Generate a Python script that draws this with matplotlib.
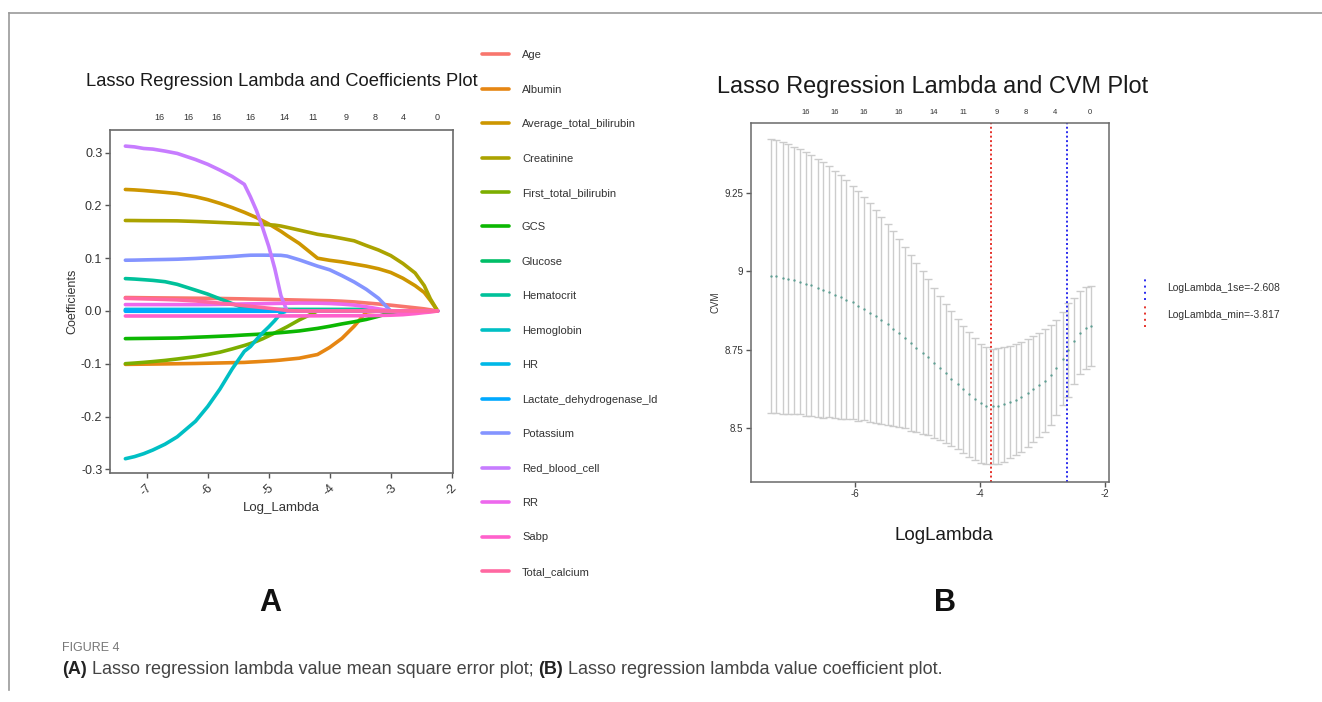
import matplotlib
matplotlib.use("Agg")
import matplotlib.pyplot as plt
from matplotlib.lines import Line2D
from matplotlib.legend_handler import HandlerBase
from matplotlib.ticker import FormatStrFormatter
import matplotlib.transforms as mtransforms

plt.rcParams['font.family'] = ['Liberation Sans', 'DejaVu Sans']
plt.rcParams['axes.unicode_minus'] = False

# ---------------- data: coefficient paths (panel A) ----------------
var_names = ["Age", "Albumin", "Average_total_bilirubin", "Creatinine",
             "First_total_bilirubin", "GCS", "Glucose", "Hematocrit",
             "Hemoglobin", "HR", "Lactate_dehydrogenase_ld", "Potassium",
             "Red_blood_cell", "RR", "Sabp", "Total_calcium"]
var_colors = ["#F8766D", "#E68613", "#CD9600", "#ABA300", "#7CAE00", "#0CB702",
              "#00BE67", "#00C19A", "#00BFC4", "#00B8E7", "#00A9FF", "#8494FF",
              "#C77CFF", "#ED68ED", "#FF61CC", "#FF68A1"]

coef_loglambda = [-7.35, -7.2, -7.05, -6.9, -6.7, -6.5, -6.2, -6.0, -5.8, -5.6,
                  -5.4, -5.3, -5.2, -5.1, -5.0, -4.9, -4.8, -4.7, -4.5, -4.2,
                  -4.0, -3.8, -3.6, -3.4, -3.2, -3.0, -2.8, -2.6, -2.45, -2.35, -2.23]

coef_age = [0.0255, 0.0253, 0.0251, 0.0249, 0.0247, 0.0245, 0.0242, 0.0240, 0.0237, 0.0233,
            0.0229, 0.0226, 0.0224, 0.0222, 0.0220, 0.0217, 0.0215, 0.0212, 0.0207, 0.0199,
            0.0195, 0.0185, 0.0172, 0.0152, 0.0132, 0.0110, 0.0085, 0.0060, 0.0040, 0.0022, 0.0]
coef_albumin = [-0.1012, -0.1010, -0.1008, -0.1006, -0.1003, -0.1000, -0.0995, -0.0990, -0.0985, -0.0980,
                -0.0975, -0.0968, -0.0962, -0.0955, -0.0948, -0.0940, -0.0930, -0.0918, -0.0895, -0.0825,
                -0.0690, -0.0520, -0.0290, -0.0020, 0.0, 0.0, 0.0, 0.0, 0.0, 0.0, 0.0]
coef_avg_bili = [0.2303, 0.2295, 0.2283, 0.2268, 0.2248, 0.2226, 0.2165, 0.2110, 0.2040, 0.1960,
                 0.1870, 0.1820, 0.1770, 0.1710, 0.1650, 0.1580, 0.1510, 0.1430, 0.1280, 0.1000,
                 0.0960, 0.0930, 0.0890, 0.0850, 0.0800, 0.0730, 0.0620, 0.0480, 0.0350, 0.0200, 0.0]
coef_creatinine = [0.1715, 0.1714, 0.1712, 0.1711, 0.1710, 0.1708, 0.1697, 0.1688, 0.1678, 0.1668,
                   0.1657, 0.1651, 0.1645, 0.1640, 0.1634, 0.1627, 0.1610, 0.1585, 0.1533, 0.1453,
                   0.1418, 0.1375, 0.1330, 0.1240, 0.1155, 0.1050, 0.0900, 0.0720, 0.0480, 0.0230, 0.0]
coef_first_bili = [-0.0999, -0.0987, -0.0974, -0.0959, -0.0937, -0.0910, -0.0865, -0.0825, -0.0781, -0.0720,
                   -0.0654, -0.0617, -0.0575, -0.0527, -0.0472, -0.0416, -0.0359, -0.0300, -0.0170, 0.0,
                   0.0, 0.0, 0.0, 0.0, 0.0, 0.0, 0.0, 0.0, 0.0, 0.0, 0.0]
coef_gcs = [-0.0524, -0.0522, -0.0520, -0.0518, -0.0515, -0.0512, -0.0498, -0.0489, -0.0479, -0.0469,
            -0.0455, -0.0449, -0.0443, -0.0435, -0.0427, -0.0419, -0.0410, -0.0400, -0.0378, -0.0330,
            -0.0290, -0.0245, -0.0205, -0.0160, -0.0100, -0.0030, 0.0, 0.0, 0.0, 0.0, 0.0]
coef_glucose = [0.0010, 0.0010, 0.0010, 0.0010, 0.0010, 0.0010, 0.0010, 0.0010, 0.0010, 0.0010,
                0.0010, 0.0010, 0.0010, 0.0010, 0.0010, 0.0010, 0.0010, 0.0010, 0.0010, 0.0010,
                0.0010, 0.0010, 0.0010, 0.0010, 0.0005, 0.0, 0.0, 0.0, 0.0, 0.0, 0.0]
coef_hematocrit = [0.0614, 0.0605, 0.0593, 0.0580, 0.0555, 0.0505, 0.0395, 0.0320, 0.0230, 0.0140,
                   0.0055, 0.0035, 0.0030, 0.0030, 0.0030, 0.0030, 0.0030, 0.0030, 0.0030, 0.0030,
                   0.0030, 0.0030, 0.0030, 0.0030, 0.0020, 0.0, 0.0, 0.0, 0.0, 0.0, 0.0]
coef_hemoglobin = [-0.2800, -0.2760, -0.2705, -0.2635, -0.2525, -0.2385, -0.2090, -0.1810, -0.1480, -0.1100,
                   -0.0765, -0.0675, -0.0540, -0.0413, -0.0302, -0.0180, -0.0040, 0.0, 0.0, 0.0,
                   0.0, 0.0, 0.0, 0.0, 0.0, 0.0, 0.0, 0.0, 0.0, 0.0, 0.0]
coef_hr = [0.0030, 0.0030, 0.0030, 0.0030, 0.0030, 0.0030, 0.0030, 0.0030, 0.0030, 0.0030,
           0.0030, 0.0030, 0.0030, 0.0030, 0.0030, 0.0010, 0.0, 0.0, 0.0, 0.0,
           0.0, 0.0, 0.0, 0.0, 0.0, 0.0, 0.0, 0.0, 0.0, 0.0, 0.0]
coef_ldh = [-0.0005, -0.0005, -0.0005, -0.0005, -0.0005, -0.0005, -0.0005, -0.0005, -0.0005, -0.0005,
            -0.0005, -0.0005, -0.0005, -0.0005, -0.0005, -0.0003, 0.0, 0.0, 0.0, 0.0,
            0.0, 0.0, 0.0, 0.0, 0.0, 0.0, 0.0, 0.0, 0.0, 0.0, 0.0]
coef_potassium = [0.0962, 0.0964, 0.0968, 0.0972, 0.0976, 0.0981, 0.0995, 0.1008, 0.1019, 0.1032,
                  0.1050, 0.1057, 0.1058, 0.1058, 0.1057, 0.1057, 0.1055, 0.1040, 0.0970, 0.0850,
                  0.0780, 0.0670, 0.0550, 0.0410, 0.0240, 0.0, 0.0, 0.0, 0.0, 0.0, 0.0]
coef_rbc = [0.3125, 0.3110, 0.3080, 0.3068, 0.3030, 0.2986, 0.2870, 0.2780, 0.2670, 0.2550,
            0.2400, 0.2164, 0.1900, 0.1577, 0.1225, 0.0800, 0.0290, 0.0, 0.0, 0.0,
            0.0, 0.0, 0.0, 0.0, 0.0, 0.0, 0.0, 0.0, 0.0, 0.0, 0.0]
coef_rr = [0.0121, 0.0121, 0.0121, 0.0121, 0.0121, 0.0121, 0.0121, 0.0122, 0.0125, 0.0129,
           0.0133, 0.0135, 0.0137, 0.0139, 0.0141, 0.0143, 0.0145, 0.0147, 0.0150, 0.0148,
           0.0142, 0.0130, 0.0112, 0.0080, 0.0040, 0.0, 0.0, 0.0, 0.0, 0.0, 0.0]
coef_sabp = [-0.0095, -0.0095, -0.0095, -0.0095, -0.0095, -0.0095, -0.0095, -0.0095, -0.0095, -0.0095,
             -0.0095, -0.0095, -0.0095, -0.0095, -0.0094, -0.0094, -0.0094, -0.0094, -0.0093, -0.0092,
             -0.0091, -0.0090, -0.0090, -0.0089, -0.0085, -0.0080, -0.0070, -0.0050, -0.0030, -0.0020, 0.0]
coef_calcium = [0.0240, 0.0235, 0.0230, 0.0225, 0.0218, 0.0210, 0.0190, 0.0170, 0.0148, 0.0125,
                0.0100, 0.0088, 0.0076, 0.0064, 0.0052, 0.0040, 0.0025, 0.0010, 0.0, 0.0,
                0.0, 0.0, 0.0, 0.0, 0.0, 0.0, 0.0, 0.0, 0.0, 0.0, 0.0]

coef_paths = [coef_age, coef_albumin, coef_avg_bili, coef_creatinine, coef_first_bili,
              coef_gcs, coef_glucose, coef_hematocrit, coef_hemoglobin, coef_hr, coef_ldh,
              coef_potassium, coef_rbc, coef_rr, coef_sabp, coef_calcium]

# number of non-zero coefficients shown along the top
df_loglambda = [-6.79, -6.32, -5.86, -5.30, -4.74, -4.27, -3.73, -3.26, -2.80, -2.24]
df_counts = [16, 16, 16, 16, 14, 11, 9, 8, 4, 0]

# ---------------- data: cross-validation curve (panel B) ----------------
cv_loglambda = [-7.35, -7.26, -7.16, -7.07, -6.98, -6.88, -6.79, -6.70, -6.60, -6.51,
                -6.42, -6.32, -6.23, -6.14, -6.04, -5.95, -5.86, -5.76, -5.67, -5.58,
                -5.48, -5.39, -5.30, -5.20, -5.11, -5.02, -4.92, -4.83, -4.74, -4.64,
                -4.55, -4.46, -4.36, -4.27, -4.18, -4.08, -3.99, -3.90, -3.80, -3.71,
                -3.62, -3.52, -3.43, -3.34, -3.24, -3.15, -3.06, -2.96, -2.87, -2.78,
                -2.68, -2.59, -2.50, -2.40, -2.31, -2.22]
cvm = [8.985, 8.984, 8.979, 8.975, 8.972, 8.967, 8.959, 8.955, 8.948, 8.941,
       8.935, 8.926, 8.918, 8.910, 8.901, 8.890, 8.881, 8.868, 8.856, 8.844,
       8.831, 8.817, 8.803, 8.789, 8.773, 8.756, 8.741, 8.726, 8.709, 8.692,
       8.675, 8.658, 8.641, 8.624, 8.608, 8.592, 8.579, 8.572, 8.570, 8.571,
       8.576, 8.583, 8.591, 8.600, 8.612, 8.625, 8.638, 8.652, 8.669, 8.693,
       8.721, 8.749, 8.779, 8.804, 8.819, 8.825]
cvsd = [0.435, 0.434, 0.434, 0.430, 0.425, 0.421, 0.420, 0.415, 0.411, 0.408,
        0.400, 0.394, 0.388, 0.380, 0.372, 0.366, 0.356, 0.349, 0.340, 0.330,
        0.319, 0.310, 0.300, 0.289, 0.280, 0.269, 0.259, 0.248, 0.239, 0.229,
        0.222, 0.214, 0.208, 0.203, 0.198, 0.194, 0.191, 0.186, 0.183, 0.184,
        0.182, 0.179, 0.176, 0.176, 0.171, 0.168, 0.165, 0.163, 0.159, 0.152,
        0.148, 0.149, 0.137, 0.132, 0.130, 0.128]
log_lambda_min = -3.817
log_lambda_1se = -2.608
cv_yticks = [8.5, 8.75, 9.0, 9.25]
cv_yticklabels = ["8.5", "8.75", "9", "9.25"]

# ---------------- figure ----------------
W, H = 1322, 702
fig = plt.figure(figsize=(W / 100, H / 100), dpi=100)


def fx(px):
    return px / W


def fy(py):
    return 1 - py / H


TXT = "#333333"

# ----- panel A -----
ax1 = fig.add_axes([fx(110), fy(472.7), (452.7 - 110) / W, (472.7 - 130) / H])
lines = []
for name, col, vals in zip(var_names, var_colors, coef_paths):
    ln, = ax1.plot(coef_loglambda, vals, color=col, lw=2.6, label=name,
                   solid_capstyle='round', solid_joinstyle='round')
    lines.append(ln)
ax1.set_xlim(-7.602, -1.984)
ax1.set_ylim(-0.3065, 0.343)
ax1.set_xticks([-7, -6, -5, -4, -3, -2])
ax1.set_yticks([-0.3, -0.2, -0.1, 0.0, 0.1, 0.2, 0.3])
ax1.yaxis.set_major_formatter(FormatStrFormatter('%.1f'))
ax1.xaxis.set_major_formatter(FormatStrFormatter('%d'))
ax1.tick_params(direction='out', length=3.5, width=1.0, color='#555555',
                labelsize=9, labelcolor=TXT, pad=2)
ax1.tick_params(axis='x', labelrotation=45, pad=3)
for sp in ax1.spines.values():
    sp.set_color('#6a6a6a')
    sp.set_linewidth(1.2)
ax1.set_ylabel('Coefficients', fontsize=9, color=TXT)
ax1.yaxis.set_label_coords(-0.093, 0.5)
ax1.set_xlabel('Log_Lambda', fontsize=9.5, color=TXT)
ax1.xaxis.set_label_coords(0.5, -0.085)
tr1 = mtransforms.blended_transform_factory(ax1.transData, ax1.transAxes)
for pos, cnt in zip(df_loglambda, df_counts):
    ax1.text(pos, (472.7 - 117) / 342.7, str(cnt), transform=tr1, ha='center',
             va='center', fontsize=6.5, color=TXT)
fig.text(fx(281.5), fy(82), 'Lasso Regression Lambda and Coefficients Plot',
         ha='center', va='center', fontsize=13.2, color='#1a1a1a')

fig.legend(lines, var_names, loc='center left', bbox_to_anchor=(fx(482), fy(313.5)),
           frameon=False, fontsize=8, handlelength=2.4, handletextpad=1.2,
           labelspacing=2.2, borderpad=0, borderaxespad=0, labelcolor=TXT)

# ----- panel B -----
ax2 = fig.add_axes([fx(751), fy(481.7), 358 / W, 359 / H])
ax2.errorbar(cv_loglambda, cvm, yerr=cvsd, fmt='none', ecolor='#cccccc',
             elinewidth=1.0, capsize=2.6, capthick=1.0)
ax2.plot(cv_loglambda, cvm, 'o', ms=1.7, color='#5f9f93', mec='none')
vmin = ax2.axvline(log_lambda_min, color='#e5322b', ls=(0, (1, 1.3)), lw=1.4)
v1se = ax2.axvline(log_lambda_1se, color='#2b2bef', ls=(0, (1, 1.3)), lw=1.4)
ax2.set_xlim(-7.664, -1.936)
ax2.set_ylim(8.33, 9.473)
ax2.set_xticks([-6, -4, -2])
ax2.xaxis.set_major_formatter(FormatStrFormatter('%d'))
ax2.set_yticks(cv_yticks)
ax2.set_yticklabels(cv_yticklabels)
ax2.tick_params(direction='out', length=3.5, width=1.0, color='#555555',
                labelsize=7, labelcolor=TXT, pad=2)
for sp in ax2.spines.values():
    sp.set_color('#6a6a6a')
    sp.set_linewidth(1.1)
ax2.set_ylabel('CVM', fontsize=7, color=TXT)
ax2.yaxis.set_label_coords(-0.084, 0.5)
ax2.set_xlabel('LogLambda', fontsize=13.5, color='#1a1a1a')
ax2.xaxis.set_label_coords(0.54, -0.125)
tr2 = mtransforms.blended_transform_factory(ax2.transData, ax2.transAxes)
for pos, cnt in zip(df_loglambda, df_counts):
    ax2.text(pos, (481.7 - 112.3) / 359, str(cnt), transform=tr2, ha='center',
             va='center', fontsize=5.5, color=TXT)
fig.text(fx(933), fy(86), 'Lasso Regression Lambda and CVM Plot',
         ha='center', va='center', fontsize=16.9, color='#1a1a1a')


class VLineHandler(HandlerBase):
    def create_artists(self, legend, orig_handle, xdescent, ydescent, width,
                       height, fontsize, trans):
        x = -xdescent + width / 2
        ln = Line2D([x, x], [-ydescent - 3, height - ydescent + 3],
                    color=orig_handle.get_color(), linestyle=(0, (1, 2.2)),
                    lw=orig_handle.get_linewidth(), transform=trans)
        return [ln]


fig.legend([v1se, vmin],
           ['LogLambda_1se=%.3f' % log_lambda_1se, 'LogLambda_min=%.3f' % log_lambda_min],
           handler_map={Line2D: VLineHandler()}, loc='center left',
           bbox_to_anchor=(fx(1141), fy(301.5)), frameon=False, fontsize=7.5,
           handlelength=0.8, handletextpad=1.7, handleheight=1.9, labelspacing=1.1,
           borderpad=0, borderaxespad=0, labelcolor=TXT)

# ----- panel letters -----
fig.text(fx(270), fy(603), 'A', ha='center', va='center', fontsize=22,
         fontweight='bold', color='#111111')
fig.text(fx(945), fy(603), 'B', ha='center', va='center', fontsize=22,
         fontweight='bold', color='#111111')

# ----- page frame -----
fig.add_artist(Line2D([fx(9), 1.0], [fy(12.5), fy(12.5)], color='#9a9a9a', lw=1.2,
                      transform=fig.transFigure))
fig.add_artist(Line2D([fx(9), fx(9)], [fy(12.5), fy(690)], color='#9a9a9a', lw=1.2,
                      transform=fig.transFigure))

# ----- caption -----
cap_font = ['Liberation Sans Narrow', 'Liberation Sans', 'DejaVu Sans']
fig.text(fx(62), fy(648), 'FIGURE 4', ha='left', va='center', fontsize=9,
         color='#777777', family=cap_font)
renderer = fig.canvas.get_renderer()
pieces = [('(A)', 'bold', '#222222'),
          (' Lasso regression lambda value mean square error plot; ', 'normal', '#444444'),
          ('(B)', 'bold', '#222222'),
          (' Lasso regression lambda value coefficient plot.', 'normal', '#444444')]
xpos = 62
for txt, wt, col in pieces:
    t = fig.text(fx(xpos), fy(670), txt, ha='left', va='center', fontsize=13,
                 fontweight=wt, color=col, family=cap_font)
    bb = t.get_window_extent(renderer)
    xpos = bb.x1

fig.savefig('out.png', dpi=100)
